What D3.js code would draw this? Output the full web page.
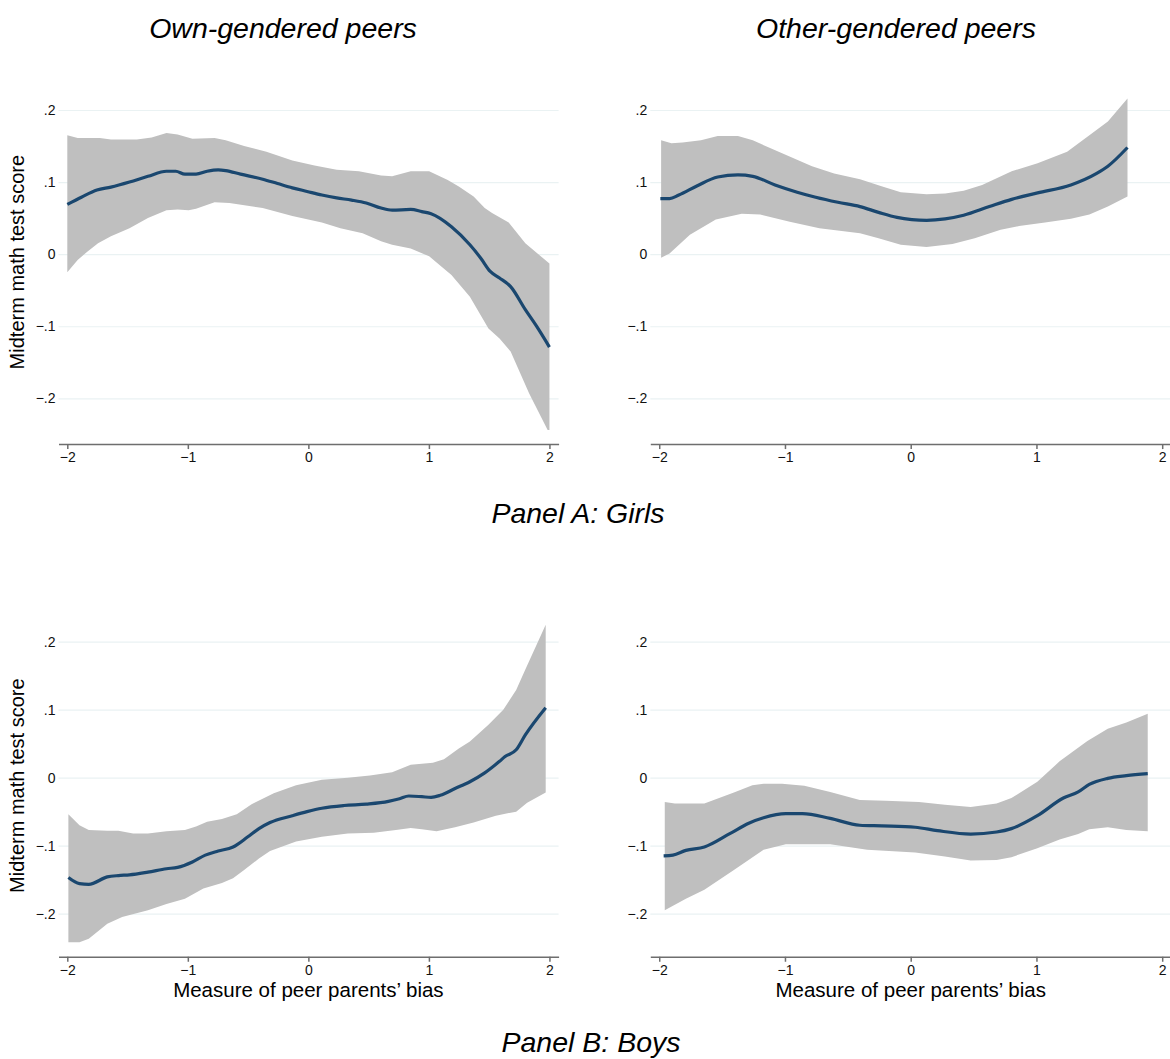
<!DOCTYPE html>
<html>
<head>
<meta charset="utf-8">
<script src="https://cdn.jsdelivr.net/npm/d3@7"></script>
<style>
  body { margin: 0; background: #fff; }
  svg { display: block; font-family: "Liberation Sans", Arial, Helvetica, sans-serif; }
  .grid line { stroke: #eaf2f3; stroke-width: 1.2; }
  .grid text { font-size: 14px; fill: #111; }
  .xaxis path, .xaxis line { stroke: #6e6e6e; stroke-width: 1.5; }
  .xaxis text { font-size: 14px; fill: #111; }
</style>
</head>
<body>
<svg id="chart" width="1170" height="1059"></svg>
<script>
// tick values / labels
const xTickValues = [-2, -1, 0, 1, 2];
const xTickLabels = ["\u22122", "\u22121", "0", "1", "2"];
const yTickValues = [-0.2, -0.1, 0, 0.1, 0.2];
const yTickLabels = ["\u2212.2", "\u2212.1", "0", ".1", ".2"];

// Panel A, own-gendered peers (girls)
const girlsOwnFit = [[-2,0.069],[-1.883,0.079],[-1.754,0.089],[-1.638,0.093],[-1.484,0.100],[-1.331,0.108],[-1.177,0.115],[-1.10,0.115],[-1.024,0.111],[-0.932,0.111],[-0.84,0.115],[-0.748,0.117],[-0.686,0.116],[-0.563,0.111],[-0.379,0.104],[-0.256,0.098],[-0.133,0.092],[-0.011,0.087],[0.112,0.082],[0.235,0.078],[0.358,0.075],[0.480,0.071],[0.603,0.064],[0.695,0.061],[0.849,0.062],[0.941,0.059],[1.018,0.056],[1.187,0.038],[1.340,0.013],[1.432,-0.006],[1.509,-0.024],[1.586,-0.033],[1.678,-0.045],[1.80,-0.077],[1.893,-0.100],[2.0,-0.129]];
const girlsOwnHi = [[-2,0.165],[-1.914,0.161],[-1.73,0.161],[-1.638,0.159],[-1.423,0.159],[-1.30,0.162],[-1.177,0.168],[-1.085,0.166],[-0.962,0.160],[-0.778,0.161],[-0.686,0.158],[-0.533,0.150],[-0.348,0.142],[-0.133,0.130],[0.051,0.123],[0.235,0.117],[0.419,0.115],[0.603,0.109],[0.695,0.108],[0.849,0.115],[1.002,0.115],[1.156,0.103],[1.248,0.094],[1.371,0.080],[1.463,0.064],[1.524,0.057],[1.662,0.044],[1.80,0.015],[2.0,-0.013]];
const girlsOwnLo = [[-2,-0.025],[-1.914,-0.008],[-1.837,0.003],[-1.745,0.015],[-1.638,0.025],[-1.484,0.036],[-1.331,0.050],[-1.177,0.061],[-1.085,0.062],[-0.993,0.061],[-0.932,0.063],[-0.778,0.072],[-0.655,0.071],[-0.379,0.064],[-0.133,0.053],[0.112,0.044],[0.266,0.036],[0.450,0.029],[0.603,0.018],[0.695,0.013],[0.849,0.008],[1.002,-0.003],[1.187,-0.029],[1.340,-0.059],[1.494,-0.103],[1.586,-0.117],[1.678,-0.135],[1.831,-0.193],[1.985,-0.244],[2.0,-0.244]];

// Panel A, other-gendered peers (girls)
const girlsOtherFit = [[-1.991,0.077],[-1.918,0.077],[-1.844,0.082],[-1.697,0.095],[-1.535,0.107],[-1.374,0.110],[-1.256,0.108],[-1.079,0.096],[-0.903,0.086],[-0.756,0.079],[-0.579,0.072],[-0.403,0.066],[-0.256,0.058],[-0.109,0.051],[0.009,0.048],[0.126,0.047],[0.274,0.049],[0.421,0.054],[0.626,0.066],[0.803,0.076],[1.009,0.085],[1.274,0.096],[1.479,0.112],[1.568,0.122],[1.724,0.148]];
const girlsOtherHi = [[-1.985,0.158],[-1.903,0.154],[-1.815,0.155],[-1.668,0.158],[-1.535,0.164],[-1.374,0.164],[-1.256,0.158],[-1.05,0.142],[-0.785,0.122],[-0.609,0.112],[-0.403,0.104],[-0.226,0.094],[-0.079,0.086],[0.126,0.083],[0.274,0.084],[0.421,0.088],[0.568,0.096],[0.803,0.115],[1.009,0.126],[1.244,0.142],[1.421,0.165],[1.568,0.184],[1.724,0.216]];
const girlsOtherLo = [[-1.985,-0.005],[-1.918,0.001],[-1.756,0.027],[-1.55,0.048],[-1.344,0.056],[-1.197,0.055],[-0.962,0.045],[-0.726,0.036],[-0.403,0.029],[-0.256,0.022],[-0.079,0.013],[0.126,0.010],[0.332,0.014],[0.509,0.022],[0.715,0.034],[0.862,0.039],[1.068,0.044],[1.274,0.049],[1.421,0.055],[1.568,0.066],[1.724,0.080]];

// Panel B, own-gendered peers (boys)
const boysOwnFit = [[-1.991,-0.147],[-1.899,-0.156],[-1.822,-0.157],[-1.668,-0.146],[-1.576,-0.144],[-1.484,-0.143],[-1.331,-0.139],[-1.177,-0.134],[-1.085,-0.132],[-0.962,-0.124],[-0.855,-0.114],[-0.748,-0.108],[-0.625,-0.102],[-0.502,-0.087],[-0.41,-0.075],[-0.318,-0.066],[-0.133,-0.056],[-0.011,-0.050],[0.112,-0.045],[0.296,-0.041],[0.48,-0.039],[0.664,-0.035],[0.756,-0.031],[0.833,-0.027],[0.941,-0.028],[1.018,-0.029],[1.094,-0.026],[1.217,-0.016],[1.340,-0.006],[1.463,0.007],[1.586,0.024],[1.632,0.031],[1.724,0.041],[1.80,0.063],[1.969,0.103]];
const boysOwnHi = [[-1.991,-0.054],[-1.899,-0.070],[-1.822,-0.077],[-1.668,-0.078],[-1.576,-0.078],[-1.454,-0.082],[-1.331,-0.082],[-1.177,-0.079],[-1.024,-0.077],[-0.932,-0.072],[-0.84,-0.065],[-0.717,-0.061],[-0.594,-0.054],[-0.471,-0.039],[-0.287,-0.023],[-0.102,-0.011],[0.112,-0.003],[0.327,0.000],[0.511,0.003],[0.695,0.008],[0.849,0.019],[1.033,0.022],[1.125,0.027],[1.248,0.043],[1.34,0.053],[1.494,0.078],[1.617,0.100],[1.724,0.129],[1.80,0.159],[1.969,0.225]];
const boysOwnLo = [[-1.991,-0.242],[-1.899,-0.242],[-1.822,-0.237],[-1.668,-0.215],[-1.545,-0.205],[-1.331,-0.195],[-1.177,-0.186],[-1.024,-0.178],[-0.871,-0.163],[-0.717,-0.155],[-0.625,-0.148],[-0.533,-0.136],[-0.41,-0.119],[-0.318,-0.108],[-0.102,-0.094],[0.112,-0.087],[0.327,-0.082],[0.542,-0.081],[0.726,-0.077],[0.849,-0.074],[0.941,-0.076],[1.064,-0.079],[1.217,-0.073],[1.371,-0.066],[1.555,-0.056],[1.724,-0.050],[1.815,-0.037],[1.969,-0.022]];

// Panel B, other-gendered peers (boys)
const boysOtherFit = [[-1.965,-0.115],[-1.891,-0.114],[-1.788,-0.107],[-1.641,-0.102],[-1.435,-0.082],[-1.288,-0.067],[-1.17,-0.059],[-0.993,-0.053],[-0.861,-0.053],[-0.64,-0.060],[-0.405,-0.070],[-0.229,-0.071],[0.036,-0.073],[0.212,-0.078],[0.477,-0.083],[0.683,-0.080],[0.801,-0.075],[1.007,-0.056],[1.214,-0.030],[1.332,-0.021],[1.42,-0.010],[1.567,-0.001],[1.715,0.003],[1.885,0.006]];
const boysOtherHi = [[-1.956,-0.036],[-1.876,-0.038],[-1.641,-0.038],[-1.406,-0.022],[-1.259,-0.011],[-1.17,-0.009],[-1.023,-0.009],[-0.846,-0.012],[-0.64,-0.021],[-0.405,-0.033],[-0.199,-0.034],[0.066,-0.036],[0.272,-0.040],[0.477,-0.043],[0.683,-0.038],[0.801,-0.030],[1.007,-0.006],[1.184,0.024],[1.405,0.054],[1.567,0.072],[1.715,0.081],[1.885,0.094]];
const boysOtherLo = [[-1.956,-0.195],[-1.788,-0.178],[-1.641,-0.165],[-1.406,-0.136],[-1.17,-0.106],[-0.993,-0.098],[-0.64,-0.098],[-0.346,-0.106],[0.036,-0.110],[0.272,-0.116],[0.477,-0.122],[0.683,-0.121],[0.801,-0.117],[1.007,-0.104],[1.184,-0.091],[1.332,-0.083],[1.42,-0.076],[1.567,-0.073],[1.715,-0.077],[1.885,-0.079]];

const svg = d3.select("#chart");
const yLow = -0.2635; // bottom of the plot region (axis line)

// layout of the 4 graphs
const panels = [
  { fit: girlsOwnFit, hi: girlsOwnHi, lo: girlsOwnLo, xr: [58.5, 558.6], xd: [-2.073, 2.076], yr: [398.3, 110], ylab: true, xlab: false },
  { fit: girlsOtherFit, hi: girlsOtherHi, lo: girlsOtherLo, xr: [650.3, 1171], xd: [-2.071, 2.07], yr: [398.3, 110], ylab: false, xlab: false },
  { fit: boysOwnFit, hi: boysOwnHi, lo: boysOwnLo, xr: [58.5, 558.6], xd: [-2.073, 2.076], yr: [913.6, 641.7], ylab: true, xlab: true },
  { fit: boysOtherFit, hi: boysOtherHi, lo: boysOtherLo, xr: [650.3, 1171], xd: [-2.071, 2.07], yr: [913.6, 641.7], ylab: false, xlab: true }
];

panels.forEach(p => {
  const x = d3.scaleLinear().domain(p.xd).range(p.xr);
  const y = d3.scaleLinear().domain([-0.2, 0.2]).range(p.yr);
  const w = p.xr[1] - p.xr[0];
  const g = svg.append("g");
  const line = d3.line().x(d => x(d[0])).y(d => y(d[1]));

  // gridlines + y labels
  g.append("g")
    .attr("class", "grid")
    .attr("transform", "translate(" + p.xr[0] + ",0)")
    .call(d3.axisLeft(y).tickValues(yTickValues)
      .tickFormat((d, i) => yTickLabels[i])
      .tickSize(-w).tickPadding(3))
    .call(s => s.select(".domain").remove());

  // confidence band: upper edge forward, lower edge back
  const band = p.hi.concat(p.lo.slice().reverse());
  g.append("path")
    .datum(band)
    .attr("d", d => line(d) + "Z")
    .attr("fill", "#bfbfbf")
    .attr("stroke", "none");

  // fitted line
  g.append("path")
    .datum(p.fit)
    .attr("d", line.curve(d3.curveMonotoneX))
    .attr("fill", "none")
    .attr("stroke", "#1a476f")
    .attr("stroke-width", 3.2)
    .attr("stroke-linejoin", "round");

  // x axis
  g.append("g")
    .attr("class", "xaxis")
    .attr("transform", "translate(0," + y(yLow) + ")")
    .call(d3.axisBottom(x).tickValues(xTickValues)
      .tickFormat((d, i) => xTickLabels[i])
      .tickSizeInner(5).tickSizeOuter(0).tickPadding(3));

  if (p.ylab) {
    g.append("text")
      .attr("transform", "translate(24," + ((p.yr[0] + p.yr[1]) / 2 + 8) + ") rotate(-90)")
      .attr("text-anchor", "middle")
      .style("font-size", "20px")
      .text("Midterm math test score");
  }
  if (p.xlab) {
    g.append("text")
      .attr("x", x(0))
      .attr("y", y(yLow) + 40)
      .attr("text-anchor", "middle")
      .style("font-size", "20.5px")
      .text("Measure of peer parents\u2019 bias");
  }
});

// titles
const titles = [
  { t: "Own-gendered peers", x: 283, y: 38 },
  { t: "Other-gendered peers", x: 896, y: 38 },
  { t: "Panel A: Girls", x: 578, y: 523 },
  { t: "Panel B: Boys", x: 591, y: 1052 }
];
svg.selectAll("text.title")
  .data(titles)
  .enter().append("text")
  .attr("class", "title")
  .attr("x", d => d.x)
  .attr("y", d => d.y)
  .attr("text-anchor", "middle")
  .style("font-size", "28.5px")
  .style("font-style", "italic")
  .text(d => d.t);
</script>
</body>
</html>
